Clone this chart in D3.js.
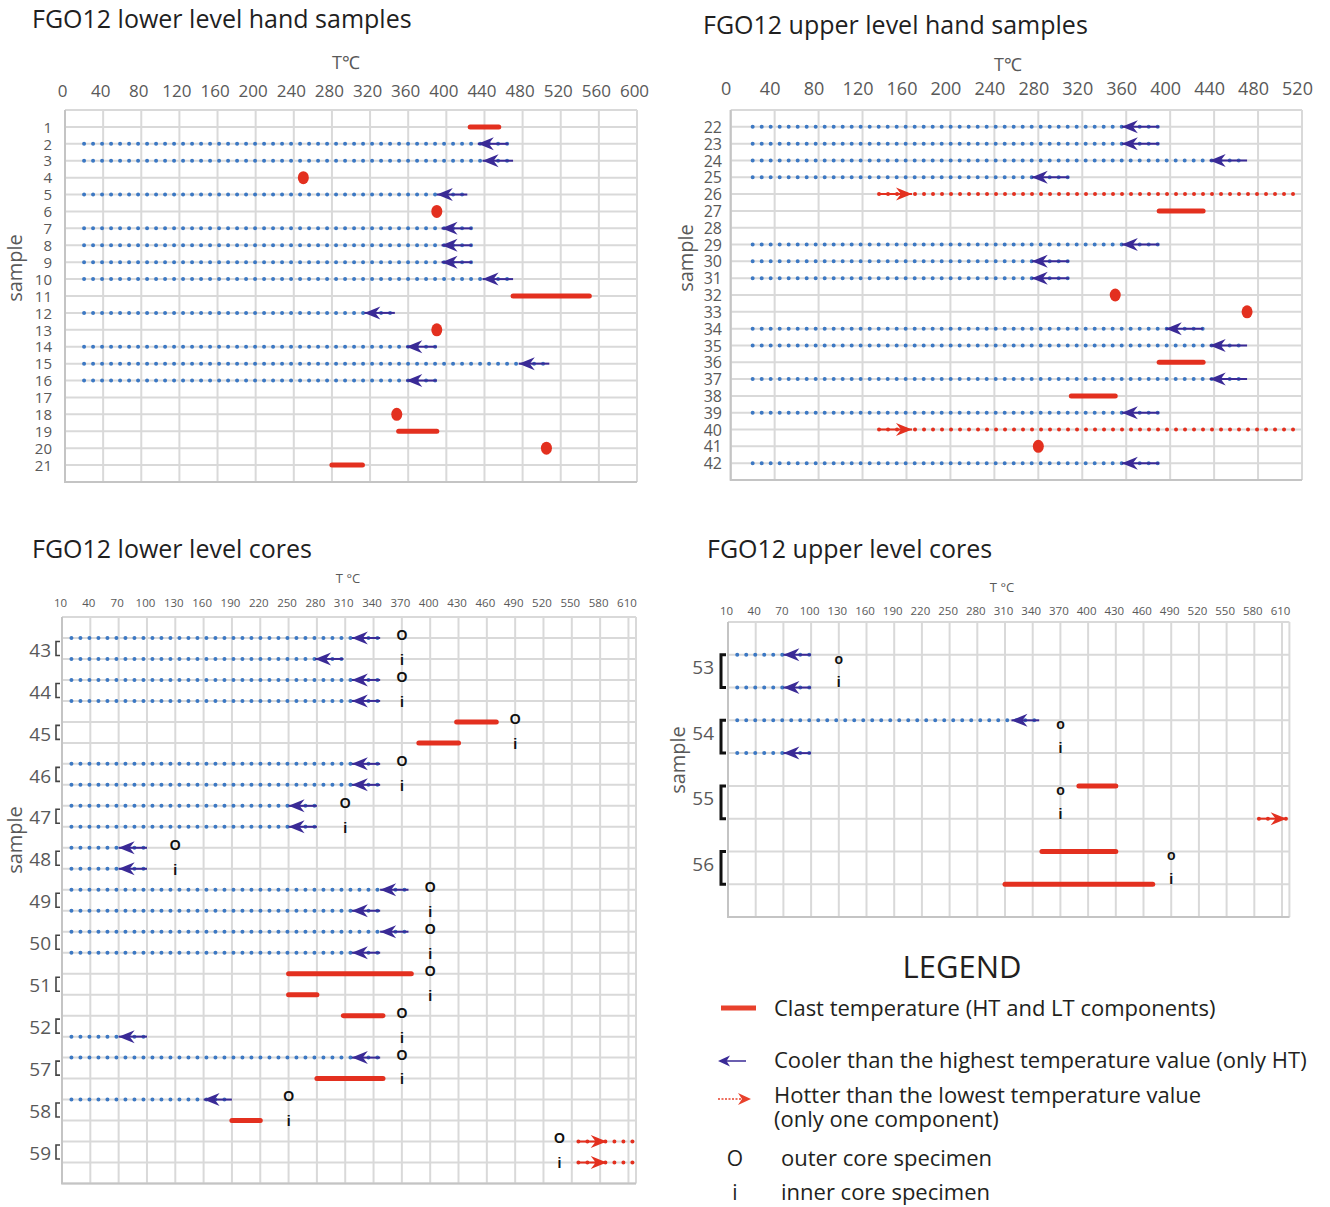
<!DOCTYPE html>
<html>
<head>
<meta charset="utf-8">
<script src="https://cdn.jsdelivr.net/npm/d3@7"></script>
<style>
body { margin: 0; background: #fff; }
svg { display: block; font-family: "Open Sans", sans-serif; }
</style>
</head>
<body>
<svg id="chart" width="1330" height="1207"></svg>
<script>
// ---- FGO12 lower level hand samples (rows 1-21)
var lowerHandRows = d3.range(1, 22);
var lowerHandTicks = d3.range(0, 601, 40);
// [sample, highest T] -> "cooler than" arrows
var lowerHandCooler = [[2,465],[3,470],[5,422],[7,427],[8,427],[9,427],[10,470],[12,346],[14,390],[15,508],[16,390]];
// [sample, low T, high T] -> clast bars
var lowerHandClast = [[1,425,455],[11,470,550],[19,350,390],[21,280,312]];
// [sample, T] -> single values
var lowerHandSpot = [[4,250],[6,390],[13,390],[18,348],[20,505]];

// ---- FGO12 upper level hand samples (rows 22-42)
var upperHandRows = d3.range(22, 43);
var upperHandTicks = d3.range(0, 521, 40);
var upperHandCooler = [[22,390],[23,390],[24,470],[25,308],[29,390],[30,308],[31,308],[34,430],[35,470],[37,470],[39,390],[42,390]];
var upperHandHotter = [[26,135],[40,135]];
var upperHandClast = [[27,390,430],[36,390,430],[38,310,350]];
var upperHandSpot = [[32,350],[33,470],[41,280]];

// ---- FGO12 lower level cores (o = outer, i = inner specimen)
var coreTicks = d3.range(10, 611, 30);
var lowerCoreSamples = [43,44,45,46,47,48,49,50,51,52,57,58,59];
var lowerCoreCooler = [[43,'o',347],[43,'i',308],[44,'o',347],[44,'i',347],[46,'o',347],[46,'i',347],
  [47,'o',280],[47,'i',280],[48,'o',100],[48,'i',100],[49,'o',377],[49,'i',347],[50,'o',377],[50,'i',347],
  [52,'i',100],[57,'o',347],[58,'o',190]];
var lowerCoreClast = [[45,'o',428,470],[45,'i',388,430],[51,'o',250,380],[51,'i',250,280],
  [52,'o',308,350],[57,'i',280,350],[58,'i',190,220]];
var lowerCoreHotter = [[59,'o',557],[59,'i',557]];
// where the o / i marks sit, in degrees
var lowerCoreMarkT = [[43,370],[44,370],[45,490],[46,370],[47,310],[48,130],[49,400],[50,400],[51,400],[52,370],[57,370],[58,250],[59,537]];

// ---- FGO12 upper level cores
var upperCoreSamples = [53,54,55,56];
var upperCoreCooler = [[53,'o',100],[53,'i',100],[54,'o',347],[54,'i',100]];
var upperCoreClast = [[55,'o',390,430],[56,'o',350,430],[56,'i',310,470]];
var upperCoreHotter = [[55,'i',585]];
var upperCoreMarkT = [[53,130],[54,370],[55,370],[56,490]];

var COL = { blue:'#3c78c3', indigo:'#3a2a96', red:'#e3301f', grid:'#d9d9d9', border:'#c4c4c4', text:'#595959', dark:'#1f1f1f' };

var svg = d3.select('#chart');

function handRow(first) {
	return function (d) { return { row: d[0] - first + 1, v: d.slice(1) }; };
}
function coreRow(samples) {
	return function (d) { return { row: samples.indexOf(d[0]) * 2 + (d[1] === 'o' ? 1 : 2), v: d.slice(2) }; };
}

function dotted(sel, color) {
	return sel.attr('stroke', color).attr('stroke-width', 4)
		.attr('stroke-linecap', 'round').attr('stroke-dasharray', '0,9');
}

// drawPanel:
//  grid, axes, marks of one of the four sub charts
function drawPanel(p) {
	var x = d3.scaleLinear().domain(p.xDomain).range(p.xRange);
	var y = d3.scaleLinear().domain([0, p.nRows + 1]).range(p.yRange);
	var g = svg.append('g');
	var x0 = p.xRange[0], x1 = p.xRange[1], y0 = p.yRange[0], y1 = p.yRange[1];

	//grid
	g.append('g').selectAll('line').data(p.ticks.concat([p.xDomain[1]])).enter().append('line')
		.attr('x1', function (d) { return x(d); }).attr('x2', function (d) { return x(d); })
		.attr('y1', y0).attr('y2', y1)
		.attr('stroke', COL.grid).attr('stroke-width', 2);
	g.append('g').selectAll('line').data(d3.range(0, p.nRows + 2)).enter().append('line')
		.attr('x1', x0).attr('x2', x1)
		.attr('y1', function (d) { return y(d); }).attr('y2', function (d) { return y(d); })
		.attr('stroke', COL.grid).attr('stroke-width', 2);
	g.append('path')
		.attr('d', 'M' + x0 + ',' + y0 + 'V' + y1 + 'H' + x1)
		.attr('fill', 'none').attr('stroke', COL.border).attr('stroke-width', 2);

	//x ticks on top
	var xa = g.append('g')
		.attr('transform', 'translate(' + p.tickDx + ',' + p.tickY + ')')
		.call(d3.axisTop(x).tickValues(p.ticks).tickSize(0).tickPadding(0));
	xa.select('.domain').remove();
	xa.selectAll('text').attr('y', 0).attr('dy', '0.35em')
		.attr('fill', COL.text).style('font-size', p.tickFont + 'px').style('font-family', '"Open Sans", sans-serif');

	//row labels
	var ya = g.append('g')
		.attr('transform', 'translate(' + p.rowLabelX + ',' + (p.rowLabelDy || 0) + ')')
		.call(d3.axisLeft(y).tickValues(p.rowTicks).tickFormat(p.rowFormat).tickSize(0).tickPadding(0));
	ya.select('.domain').remove();
	ya.selectAll('text').attr('dy', '0.35em')
		.attr('fill', COL.text).style('font-size', p.rowFont + 'px').style('font-family', '"Open Sans", sans-serif');

	//titles
	svg.append('text').attr('x', p.title[1]).attr('y', p.title[2])
		.attr('fill', COL.dark).style('font-size', '25px').text(p.title[0]);
	svg.append('text').attr('x', p.tLabel[1]).attr('y', p.tLabel[2]).attr('text-anchor', 'middle')
		.attr('dy', '0.35em').attr('fill', COL.text).style('font-size', p.tLabel[3] + 'px').text(p.tLabel[0]);
	svg.append('text').attr('transform', 'translate(' + p.sampleLabel[0] + ',' + p.sampleLabel[1] + ') rotate(-90)')
		.attr('text-anchor', 'middle').attr('dy', '0.35em')
		.attr('fill', COL.text).style('font-size', '20px').text('sample');

	var marks = g.append('g');

	// cooler than the highest value: dotted line + arrow pointing left
	var cooler = (p.cooler || []).map(p.row);
	dotted(marks.selectAll('.cd').data(cooler).enter().append('line')
		.attr('x1', x(p.start)).attr('x2', function (d) { return x(d.v[0]); })
		.attr('y1', function (d) { return y(d.row); }).attr('y2', function (d) { return y(d.row); }), COL.blue);
	marks.selectAll('.cs').data(cooler).enter().append('line')
		.attr('x1', function (d) { return x(d.v[0] - p.span); }).attr('x2', function (d) { return x(d.v[0]); })
		.attr('y1', function (d) { return y(d.row); }).attr('y2', function (d) { return y(d.row); })
		.attr('stroke', COL.indigo).attr('stroke-width', 2);
	marks.selectAll('.ch').data(cooler).enter().append('path')
		.attr('transform', function (d) { return 'translate(' + x(d.v[0] - p.span) + ',' + y(d.row) + ')'; })
		.attr('d', 'M0,0L16,-6.5L11,0L16,6.5Z').attr('fill', COL.indigo);

	// hotter than the lowest value: arrow pointing right + red dots
	var hotter = (p.hotter || []).map(p.row);
	dotted(marks.selectAll('.hd').data(hotter).enter().append('line')
		.attr('x1', function (d) { return x(d.v[0]); }).attr('x2', x(p.xDomain[1]))
		.attr('y1', function (d) { return y(d.row); }).attr('y2', function (d) { return y(d.row); }), COL.red);
	marks.selectAll('.hs').data(hotter).enter().append('line')
		.attr('x1', function (d) { return x(d.v[0]); }).attr('x2', function (d) { return x(d.v[0] + 30); })
		.attr('y1', function (d) { return y(d.row); }).attr('y2', function (d) { return y(d.row); })
		.attr('stroke', COL.red).attr('stroke-width', 2);
	marks.selectAll('.hh').data(hotter).enter().append('path')
		.attr('transform', function (d) { return 'translate(' + Math.min(x(d.v[0] + 30), x1) + ',' + y(d.row) + ')'; })
		.attr('d', 'M0,0L-16,-6.5L-11,0L-16,6.5Z').attr('fill', COL.red);

	// clast bars
	marks.selectAll('.cl').data((p.clast || []).map(p.row)).enter().append('line')
		.attr('x1', function (d) { return x(d.v[0]); }).attr('x2', function (d) { return x(d.v[1]); })
		.attr('y1', function (d) { return y(d.row); }).attr('y2', function (d) { return y(d.row); })
		.attr('stroke', COL.red).attr('stroke-width', 5).attr('stroke-linecap', 'round');

	// single values
	marks.selectAll('.sp').data((p.spot || []).map(p.row)).enter().append('ellipse')
		.attr('cx', function (d) { return x(d.v[0]); }).attr('cy', function (d) { return y(d.row); })
		.attr('rx', 5.5).attr('ry', 6.5).attr('fill', COL.red);

	// o / i marks and brackets for cores
	if (p.samples) {
		var mk = marks.selectAll('.mk').data(p.markT).enter().append('g');
		mk.append('text')
			.attr('x', function (d) { return x(d[1]); })
			.attr('y', function (d) { return y(p.samples.indexOf(d[0]) * 2 + 1) + p.oDy; })
			.attr('text-anchor', 'middle').attr('dy', '0.35em')
			.style('font-family', '"Liberation Sans", Arial, sans-serif').style('font-weight', 'bold')
			.style('font-size', '14px').attr('fill', '#111').text(p.oChar);
		mk.append('text')
			.attr('x', function (d) { return x(d[1]); })
			.attr('y', function (d) { return y(p.samples.indexOf(d[0]) * 2 + 2) + p.iDy; })
			.attr('text-anchor', 'middle').attr('dy', '0.35em')
			.style('font-family', '"Liberation Sans", Arial, sans-serif').style('font-weight', 'bold')
			.style('font-size', '14px').attr('fill', '#111').text('i');

		g.selectAll('.br').data(p.samples).enter().append('path')
			.attr('d', function (s, k) {
				var ya0, ya1;
				if (p.bracketFull) { ya0 = y(k * 2 + 1); ya1 = y(k * 2 + 2); }
				else { var m = y(k * 2 + 1.5); ya0 = m - 7; ya1 = m + 7; }
				return 'M' + (p.bracketX + p.bracketW) + ',' + ya0 + 'H' + p.bracketX + 'V' + ya1 + 'H' + (p.bracketX + p.bracketW);
			})
			.attr('fill', 'none').attr('stroke', p.bracketColor).attr('stroke-width', p.bracketStroke);
	}
}

drawPanel({
	title: ['FGO12 lower level hand samples', 32, 28],
	tLabel: ['T\u2103', 346, 63, 18],
	sampleLabel: [15, 268],
	xDomain: [0, 600], xRange: [65, 637], yRange: [110, 482], nRows: 21,
	ticks: lowerHandTicks, tickY: 91, tickDx: -3, tickFont: 17,
	rowTicks: lowerHandRows.map(function (s) { return s; }), rowFormat: function (d) { return d; },
	rowLabelX: 52, rowFont: 15,
	row: handRow(1), start: 20, span: 32,
	cooler: lowerHandCooler, clast: lowerHandClast, spot: lowerHandSpot
});

drawPanel({
	title: ['FGO12 upper level hand samples', 703, 34],
	tLabel: ['T\u2103', 1008, 65, 18],
	sampleLabel: [686, 258],
	xDomain: [0, 520], xRange: [730.7, 1302], yRange: [110, 480], nRows: 21,
	ticks: upperHandTicks, tickY: 89, tickDx: -5, tickFont: 18,
	rowTicks: upperHandRows.map(function (s) { return s - 21; }), rowFormat: function (d) { return d + 21; },
	rowLabelX: 722, rowFont: 16,
	row: handRow(22), start: 20, span: 34,
	cooler: upperHandCooler, hotter: upperHandHotter, clast: upperHandClast, spot: upperHandSpot
});

drawPanel({
	title: ['FGO12 lower level cores', 32, 558],
	tLabel: ['T \u00b0C', 348, 578, 13],
	sampleLabel: [15, 840],
	xDomain: [10, 618], xRange: [62, 636], yRange: [617, 1183.5], nRows: 26,
	ticks: coreTicks, tickY: 603, tickDx: -2, tickFont: 11.5,
	rowTicks: lowerCoreSamples.map(function (s, k) { return k * 2 + 1.5; }),
	rowFormat: function (d) { return lowerCoreSamples[(d - 1.5) / 2]; },
	rowLabelX: 51, rowLabelDy: 1, rowFont: 19,
	row: coreRow(lowerCoreSamples), start: 20, span: 30,
	cooler: lowerCoreCooler, clast: lowerCoreClast, hotter: lowerCoreHotter,
	samples: lowerCoreSamples, markT: lowerCoreMarkT, oChar: 'O', oDy: -3, iDy: 1,
	bracketX: 56, bracketW: 4, bracketStroke: 1.6, bracketColor: '#444', bracketFull: false
});

drawPanel({
	title: ['FGO12 upper level cores', 707, 558],
	tLabel: ['T \u00b0C', 1002, 587, 13],
	sampleLabel: [678, 760],
	xDomain: [10, 618], xRange: [728, 1289.4], yRange: [622, 917], nRows: 8,
	ticks: coreTicks, tickY: 611, tickDx: -2, tickFont: 11.5,
	rowTicks: upperCoreSamples.map(function (s, k) { return k * 2 + 1.5; }),
	rowFormat: function (d) { return upperCoreSamples[(d - 1.5) / 2]; },
	rowLabelX: 714, rowLabelDy: -4, rowFont: 19,
	row: coreRow(upperCoreSamples), start: 20, span: 30,
	cooler: upperCoreCooler, clast: upperCoreClast, hotter: upperCoreHotter,
	samples: upperCoreSamples, markT: upperCoreMarkT, oChar: 'o', oDy: 4, iDy: -5,
	bracketX: 721, bracketW: 5, bracketStroke: 3, bracketColor: '#111', bracketFull: true
});

// legend
var lg = svg.append('g').style('fill', '#231f20');
lg.append('text').attr('x', 962).attr('y', 978).attr('text-anchor', 'middle')
	.style('font-size', '31px').text('LEGEND');
lg.append('line').attr('x1', 721).attr('x2', 756).attr('y1', 1008).attr('y2', 1008)
	.attr('stroke', '#e8412c').attr('stroke-width', 5);
lg.append('text').attr('x', 774).attr('y', 1016).style('font-size', '22px')
	.text('Clast temperature (HT and LT components)');
lg.append('line').attr('x1', 724).attr('x2', 746).attr('y1', 1061).attr('y2', 1061)
	.attr('stroke', COL.indigo).attr('stroke-width', 1.5);
lg.append('path').attr('transform', 'translate(718,1061)').attr('d', 'M0,0L12,-5.5L8.5,0L12,5.5Z').attr('fill', COL.indigo);
lg.append('text').attr('x', 774).attr('y', 1068).style('font-size', '22px')
	.text('Cooler than the highest temperature value (only HT)');
lg.append('line').attr('x1', 718).attr('x2', 742).attr('y1', 1099).attr('y2', 1099)
	.attr('stroke', '#e8412c').attr('stroke-width', 1.5).attr('stroke-dasharray', '2,1.5');
lg.append('path').attr('transform', 'translate(751,1099)').attr('d', 'M0,0L-13,-6L-9,0L-13,6Z').attr('fill', '#e8412c');
lg.append('text').attr('x', 774).attr('y', 1103).style('font-size', '22px')
	.text('Hotter than the lowest temperature value');
lg.append('text').attr('x', 774).attr('y', 1127).style('font-size', '22px')
	.text('(only one component)');
lg.append('text').attr('x', 735).attr('y', 1166).attr('text-anchor', 'middle').style('font-size', '21px').text('O');
lg.append('text').attr('x', 781).attr('y', 1166).style('font-size', '22px').text('outer core specimen');
lg.append('text').attr('x', 735).attr('y', 1200).attr('text-anchor', 'middle').style('font-size', '21px').text('i');
lg.append('text').attr('x', 781).attr('y', 1200).style('font-size', '22px').text('inner core specimen');
</script>
</body>
</html>
